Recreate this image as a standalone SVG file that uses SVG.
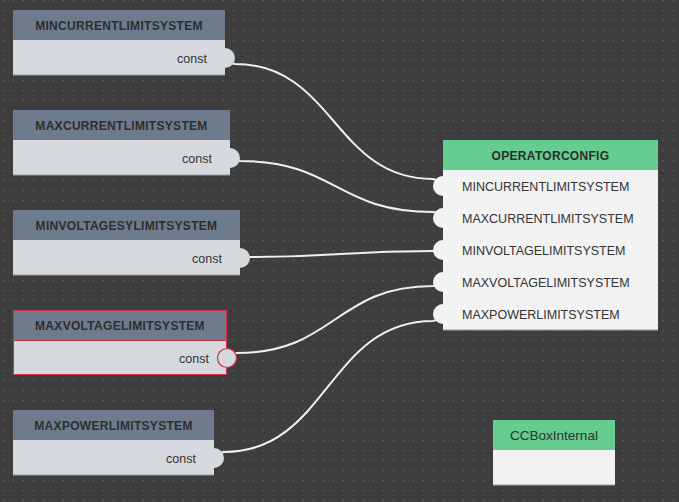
<svg xmlns="http://www.w3.org/2000/svg" width="679" height="502" viewBox="0 0 679 502">
  <defs>
    <pattern id="grid" x="0" y="0" width="10" height="10" patternUnits="userSpaceOnUse">
      <rect x="3" y="0" width="1" height="1" fill="#707070"/>
    </pattern>
    <style>
      .hdr { fill: #6d7b8d; }
      .hdrg { fill: #64cd8f; }
      .body { fill: #d5d9dd; }
      .bodyw { fill: #f2f2f2; }
      .ttl { font-family: "Liberation Sans", Arial, sans-serif; font-size: 12px; font-weight: bold; fill: #2e2e2e; text-anchor: middle; letter-spacing: 0.3px; }
      .lbl { font-family: "Liberation Sans", Arial, sans-serif; font-size: 12.5px; fill: #333; }
      .cst { font-family: "Liberation Sans", Arial, sans-serif; font-size: 12.5px; fill: #333; text-anchor: end; }
      .wire { fill: none; stroke: #f0f0f0; stroke-width: 2; }
      .pin { fill: #d5d9dd; }
      .pinw { fill: #f2f2f2; }
      .base { fill: none; stroke: #9a9ea3; stroke-width: 1; }
    </style>
  </defs>
  <rect width="679" height="502" fill="#3e3e3e"/>
  <rect width="679" height="502" fill="url(#grid)"/>

  <g id="connectors">
    <path class="wire" d="M225,62 L235,64 C334,64 334,179 433,179 L443,182"/>
    <path class="wire" d="M230,160 L240,161 C336,161 336,212 433,212 L443,214"/>
    <path class="wire" d="M240,257 L250,257 C341,257 341,251 433,251 L443,251"/>
    <path class="wire" d="M227,355 L237,353 C335,353 335,286 433,286 L443,284"/>
    <path class="wire" d="M214,454 L224,452 C328,452 328,321 433,321 L443,318"/>
  </g>

  <g id="mincurrentlimitsystem">
    <rect class="hdr" x="13" y="10" width="212" height="30"/>
    <rect class="body" x="13" y="40" width="212" height="35"/>
    <line class="base" x1="13" y1="75" x2="225" y2="75"/>
    <circle class="pin" cx="225" cy="58" r="10"/>
    <text class="ttl" x="119" y="30">MINCURRENTLIMITSYSTEM</text>
    <text class="cst" x="207" y="63">const</text>
  </g>

  <g id="maxcurrentlimitsystem">
    <rect class="hdr" x="13" y="110" width="217" height="30"/>
    <rect class="body" x="13" y="140" width="217" height="35"/>
    <line class="base" x1="13" y1="175" x2="230" y2="175"/>
    <circle class="pin" cx="230" cy="158" r="10"/>
    <text class="ttl" x="121.5" y="130">MAXCURRENTLIMITSYSTEM</text>
    <text class="cst" x="212" y="163">const</text>
  </g>

  <g id="minvoltagesylimitsystem">
    <rect class="hdr" x="13" y="210" width="227" height="30"/>
    <rect class="body" x="13" y="240" width="227" height="35"/>
    <line class="base" x1="13" y1="275" x2="240" y2="275"/>
    <circle class="pin" cx="240" cy="258" r="10"/>
    <text class="ttl" x="126.5" y="230">MINVOLTAGESYLIMITSYSTEM</text>
    <text class="cst" x="222" y="263">const</text>
  </g>

  <g id="maxvoltagelimitsystem">
    <rect class="hdr" x="13" y="310" width="214" height="30"/>
    <rect class="body" x="13" y="340" width="214" height="35"/>
    <rect x="13.5" y="310.5" width="213" height="64" fill="none" stroke="#d0304e" stroke-width="1"/>
    <line x1="13" y1="340.5" x2="227" y2="340.5" stroke="#d0304e" stroke-width="1"/>
    <circle class="pin" cx="227" cy="358" r="9.5" stroke="#d0304e" stroke-width="1.2"/>
    <text class="ttl" x="120" y="330">MAXVOLTAGELIMITSYSTEM</text>
    <text class="cst" x="209" y="363">const</text>
  </g>

  <g id="maxpowerlimitsystem">
    <rect class="hdr" x="13" y="410" width="201" height="30"/>
    <rect class="body" x="13" y="440" width="201" height="35"/>
    <line class="base" x1="13" y1="475" x2="214" y2="475"/>
    <circle class="pin" cx="214" cy="458" r="10"/>
    <text class="ttl" x="113.5" y="430">MAXPOWERLIMITSYSTEM</text>
    <text class="cst" x="196" y="463">const</text>
  </g>

  <g id="operatorconfig">
    <rect class="hdrg" x="443" y="140" width="215" height="30"/>
    <rect class="bodyw" x="443" y="170" width="215" height="160"/>
    <line class="base" x1="443" y1="330" x2="658" y2="330"/>
    <circle class="pinw" cx="443" cy="186" r="10"/>
    <circle class="pinw" cx="443" cy="218" r="10"/>
    <circle class="pinw" cx="443" cy="250" r="10"/>
    <circle class="pinw" cx="443" cy="282" r="10"/>
    <circle class="pinw" cx="443" cy="314" r="10"/>
    <rect class="bodyw" x="443" y="170" width="10" height="159"/>
    <text class="ttl" x="550.5" y="160">OPERATORCONFIG</text>
    <text class="lbl" x="462" y="191">MINCURRENTLIMITSYSTEM</text>
    <text class="lbl" x="462" y="223">MAXCURRENTLIMITSYSTEM</text>
    <text class="lbl" x="462" y="255">MINVOLTAGELIMITSYSTEM</text>
    <text class="lbl" x="462" y="287">MAXVOLTAGELIMITSYSTEM</text>
    <text class="lbl" x="462" y="319">MAXPOWERLIMITSYSTEM</text>
  </g>

  <g id="ccboxinternal">
    <rect class="hdrg" x="493" y="420" width="122" height="30"/>
    <rect class="bodyw" x="493" y="450" width="122" height="35"/>
    <line class="base" x1="493" y1="485" x2="615" y2="485"/>
    <text x="554" y="440" font-family="Liberation Sans, Arial, sans-serif" font-size="13.5" fill="#2e2e2e" text-anchor="middle">CCBoxInternal</text>
  </g>
</svg>
